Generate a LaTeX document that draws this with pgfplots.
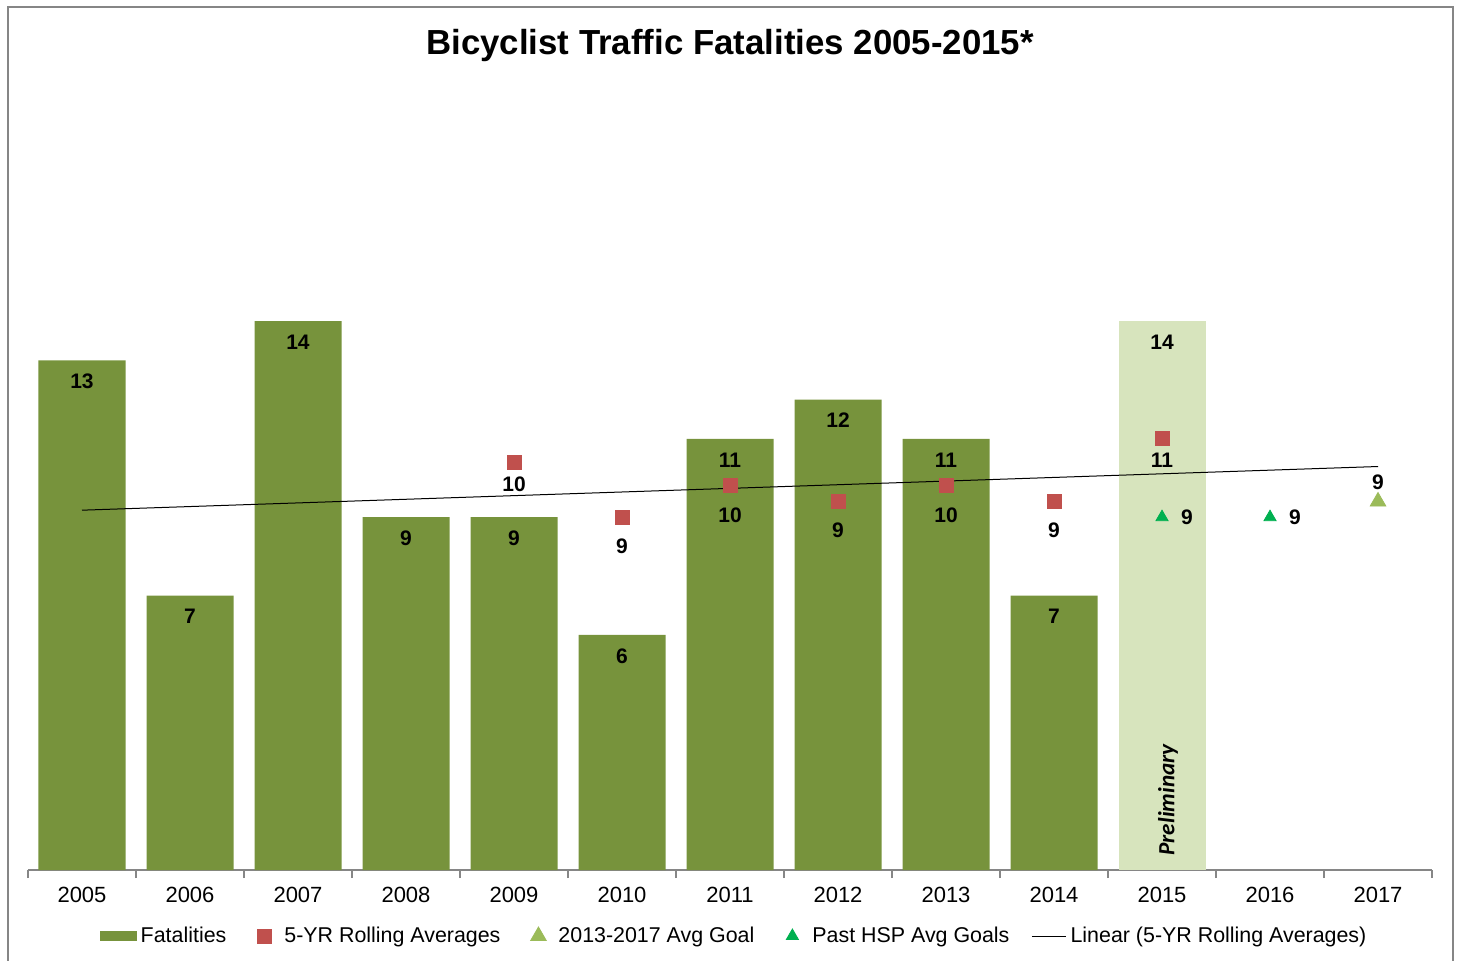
\documentclass[border=0pt]{standalone}
\usepackage{pgfplots}
\pgfplotsset{compat=1.18}
\usepackage{fontspec}
\setmainfont{Liberation Sans}
\newfontfamily\carlito{Carlito}

\definecolor{barGreen}{RGB}{119,147,60}
\definecolor{prelimGreen}{RGB}{215,228,189}
\definecolor{avgRed}{RGB}{192,80,77}
\definecolor{goalGreen}{RGB}{155,187,89}
\definecolor{hspGreen}{RGB}{0,176,80}
\definecolor{frameGray}{RGB}{134,134,134}

\pgfplotsset{
    marklegend/.style={legend image code/.code={
        \draw[##1] plot coordinates {(8pt,0pt)};
        \path[draw=none, fill=none] (0pt,0pt) (16pt,0pt);}},
}
\tikzset{lbl/.style={font=\fontsize{10.5}{12}\selectfont\bfseries, black, anchor=center}}

\begin{document}
\begin{tikzpicture}
\useasboundingbox (-14pt,-45pt) rectangle (716pt,435pt);
\draw[frameGray, line width=1pt] (-10pt,-50pt) -- (-10pt,431.5pt) -- (712.5pt,431.5pt) -- (712.5pt,-50pt);
\begin{axis}[
    at={(0pt,0pt)}, anchor=south west,
    scale only axis,
    width=702pt, height=392pt,
    xmin=-0.5, xmax=12.5,
    ymin=0, ymax=20,
    axis x line*=bottom,
    axis y line=none,
    x axis line style={frameGray, line width=0.6pt},
    xtick={0,...,12},
    xticklabels={2005,2006,2007,2008,2009,2010,2011,2012,2013,2014,2015,2016,2017},
    major tick length=0pt,
    extra x ticks={-0.5,0.5,...,12.5},
    extra x tick labels={},
    extra x tick style={major tick length=4pt, tick align=outside, tick style={frameGray, line width=0.6pt}},
    xticklabel style={font=\fontsize{11}{13}\selectfont, yshift=-5pt},
    /pgf/number format/assume math mode=true,
    clip=false,
    legend columns=5,
    legend style={
        draw=none, fill=none,
        at={(0.5036,-0.0842)}, anchor=center,
        font=\fontsize{10.7}{12}\selectfont,
        /tikz/every even column/.append style={column sep=9pt},
    },
]
    % Fatalities 2005-2014
    \addplot[ybar, bar width=43.5pt, bar shift=0pt, fill=barGreen, draw=none,
        nodes near coords,
        every node near coord/.append style={lbl, yshift=-10.5pt},
        legend image code/.code={\fill[barGreen] (0pt,-2.5pt) rectangle (18.5pt,2.5pt);}]
    coordinates {
        (0,13) (1,7) (2,14) (3,9) (4,9) (5,6) (6,11) (7,12) (8,11) (9,7)
    };
    \addlegendentry{Fatalities}

    % 2015 preliminary
    \addplot[ybar, bar width=43.5pt, bar shift=0pt, fill=prelimGreen, draw=none, forget plot,
        nodes near coords,
        every node near coord/.append style={lbl, yshift=-10.5pt}]
    coordinates {(10,14)};

    % trend line of the rolling averages
    \addplot[black, line width=0.5pt, forget plot] coordinates {(0,9.179) (12,10.293)};

    % 5-year rolling averages
    \addplot[only marks, mark=square*, mark size=3.5pt, color=avgRed, marklegend,
        point meta=explicit symbolic, nodes near coords,
        every node near coord/.append style={lbl, yshift=-14.5pt}]
    coordinates {
        (5,9.0) [9] (6,9.8) [10] (7,9.4) [9] (8,9.8) [10] (9,9.4) [9]
    };
    \addlegendentry{5-YR Rolling Averages}
    \addplot[only marks, mark=square*, mark size=3.5pt, color=avgRed, forget plot,
        point meta=explicit symbolic, nodes near coords,
        every node near coord/.append style={lbl, yshift=-10.75pt}]
    coordinates {
        (4,10.4) [10] (10,11.0) [11]
    };

    % 2013-2017 goal
    \addplot[only marks, mark=triangle*, mark size=4.5pt, color=goalGreen, marklegend,
        point meta=explicit symbolic, nodes near coords,
        every node near coord/.append style={lbl, yshift=9.5pt}]
    coordinates {(12,9.4) [9]};
    \addlegendentry{2013-2017 Avg Goal}

    % past HSP goals
    \addplot[only marks, mark=triangle*, mark size=3.5pt, color=hspGreen, marklegend,
        point meta=explicit symbolic, nodes near coords,
        every node near coord/.append style={lbl, xshift=12.5pt}]
    coordinates {(10,9) [9] (11,9) [9]};
    \addlegendentry{Past HSP Avg Goals}

    \addlegendimage{black, line width=0.5pt}
    \addlegendentry{Linear (5-YR Rolling Averages)}

    \node[rotate=90, font=\carlito\fontsize{11.6}{13}\selectfont\bfseries\itshape] at (axis cs:10.056,1.79) {Preliminary};
\end{axis}
\node[font=\fontsize{17.4}{20}\selectfont\bfseries] at (351pt,412pt) {Bicyclist Traffic Fatalities 2005-2015*};
\end{tikzpicture}
\end{document}
